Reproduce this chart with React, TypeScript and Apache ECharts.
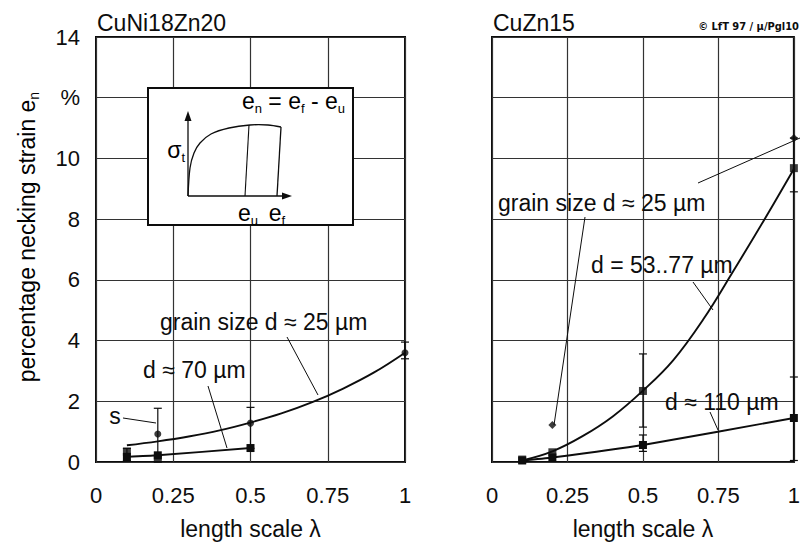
import React, { useEffect, useRef } from 'react';
import * as echarts from 'echarts';

// ---- data ----
const lambdaTicks = [0, 0.25, 0.5, 0.75, 1];
const strainTicks = [0, 2, 4, 6, 8, 10, 12, 14];
const strainTickLabels = ['0', '2', '4', '6', '8', '10', '%', '14'];

// CuNi18Zn20 (left)
const fitLambda = [0.1, 0.2, 0.3, 0.4, 0.5, 0.6, 0.7, 0.8, 0.9, 1.0];
const leftFit25 = [0.55, 0.68, 0.84, 1.04, 1.3, 1.6, 1.97, 2.42, 2.95, 3.6];
const leftPts25Lambda = [0.2, 0.5, 1.0];
const leftPts25 = [0.92, 1.28, 3.6];
const left70Lambda = [0.1, 0.2, 0.5];
const left70 = [0.17, 0.22, 0.46];
const left70SpreadLambda = [0.1, 0.2];
const left70Spread = [0.34, 0.1];
const leftErrLambda = [0.1, 0.2, 0.5, 1.0];
const leftErrLow = [0.05, 0.2, 0.45, 3.4];
const leftErrHigh = [0.45, 1.77, 1.8, 3.95];

// CuZn15 (right)
const rightFit53 = [0.05, 0.35, 0.85, 1.5, 2.35, 3.35, 4.7, 6.3, 7.95, 9.65];
const right53Lambda = [0.1, 0.2, 0.5, 1.0];
const right53 = [0.08, 0.32, 2.34, 9.68];
const right110Lambda = [0.1, 0.2, 0.5, 1.0];
const right110 = [0.05, 0.15, 0.56, 1.45];
const right25Lambda = [0.2, 1.0];
const right25 = [1.22, 10.67];
const rightErrLambda = [0.5, 0.5, 1.0, 1.0];
const rightErrLow = [1.15, 0.35, 8.9, 0.05];
const rightErrHigh = [3.56, 0.89, 10.67, 2.8];

const FONT = '"Liberation Sans", Arial, Helvetica, sans-serif';
const INK = '#0d0d0d';
const TICK = 22;
const NAME = 23;

const zip = (xs: number[], ys: number[]) => xs.map((x, i) => [x, ys[i]]);
const zip3 = (xs: number[], a: number[], b: number[]) => xs.map((x, i) => [x, a[i], b[i]]);

const errRender = (params: any, api: any) => {
  const x = api.value(0);
  const p1 = api.coord([x, api.value(1)]);
  const p2 = api.coord([x, api.value(2)]);
  const w = 4;
  const st = { stroke: INK, lineWidth: 1.2 };
  return {
    type: 'group',
    children: [
      { type: 'line', shape: { x1: p1[0], y1: p1[1], x2: p2[0], y2: p2[1] }, style: st },
      { type: 'line', shape: { x1: p2[0] - w, y1: p2[1], x2: p2[0] + w, y2: p2[1] }, style: st },
      { type: 'line', shape: { x1: p1[0] - w, y1: p1[1], x2: p1[0] + w, y2: p1[1] }, style: st },
    ],
  };
};

const txt = (x: number, y: number, text: string, size = NAME, align = 'left', extra: any = {}) => ({
  type: 'text',
  x,
  y,
  z: 20,
  style: {
    text,
    fill: INK,
    font: `${size}px ${FONT}`,
    textAlign: align,
    align,
    textVerticalAlign: 'middle',
    verticalAlign: 'middle',
    ...extra,
  },
});

const subRich = (size: number, sub: number) => ({
  m: { fontSize: size, fontFamily: FONT, color: INK, lineHeight: size + 4, verticalAlign: 'middle' },
  s: { fontSize: sub, fontFamily: FONT, color: INK, lineHeight: sub, verticalAlign: 'bottom' },
});

const ln = (x1: number, y1: number, x2: number, y2: number, w = 1) => ({
  type: 'line',
  z: 20,
  shape: { x1, y1, x2, y2 },
  style: { stroke: INK, lineWidth: w },
});

export default function App() {
  const ref = useRef<HTMLDivElement>(null);
  useEffect(() => {
    document.body.style.margin = '0';
    const chart = echarts.init(ref.current!, null, { renderer: 'svg' });

    const xAxisBase = (gi: number) => ({
      type: 'value',
      gridIndex: gi,
      min: 0,
      max: 1,
      interval: 0.25,
      axisLine: { show: false },
      axisTick: { show: false },
      splitLine: { show: true, lineStyle: { color: '#333333', width: 1.2 } },
      axisLabel: {
        margin: 22,
        fontSize: TICK,
        color: INK,
        fontFamily: FONT,
        formatter: (v: number) => String(lambdaTicks.find((t) => Math.abs(t - v) < 1e-6) ?? v),
      },
      name: 'length scale λ',
      nameLocation: 'middle',
      nameGap: 55,
      nameTextStyle: { fontSize: NAME, color: INK, fontFamily: FONT },
    });
    const yAxisBase = (gi: number) => ({
      type: 'value',
      gridIndex: gi,
      min: 0,
      max: 14,
      interval: 2,
      axisLine: { show: false },
      axisTick: { show: false },
      splitLine: { show: true, lineStyle: { color: '#333333', width: 1.2 } },
      axisLabel: {
        show: gi === 0,
        margin: 16,
        fontSize: TICK,
        color: INK,
        fontFamily: FONT,
        formatter: (v: number) => strainTickLabels[strainTicks.indexOf(v)] ?? String(v),
      },
    });

    const lineStyle = { color: INK, width: 1.9 };

    chart.setOption({
      animation: false,
      backgroundColor: '#ffffff',
      grid: [
        { left: 96, top: 37, width: 309, height: 425, show: true, borderColor: INK, borderWidth: 2, backgroundColor: 'transparent' },
        { left: 492, top: 37, width: 308, height: 425, show: true, borderColor: INK, borderWidth: 2, backgroundColor: 'transparent' },
      ],
      xAxis: [xAxisBase(0), xAxisBase(1)],
      yAxis: [yAxisBase(0), yAxisBase(1)],
      series: [
        // left
        { type: 'line', xAxisIndex: 0, yAxisIndex: 0, data: zip(fitLambda, leftFit25), smooth: 0.4, showSymbol: false, lineStyle },
        { type: 'scatter', xAxisIndex: 0, yAxisIndex: 0, data: zip(leftPts25Lambda, leftPts25), symbol: 'circle', symbolSize: 7, itemStyle: { color: INK } },
        { type: 'line', xAxisIndex: 0, yAxisIndex: 0, data: zip(left70Lambda, left70), smooth: 0.2, symbol: 'rect', symbolSize: 8, itemStyle: { color: INK }, lineStyle },
        { type: 'scatter', xAxisIndex: 0, yAxisIndex: 0, data: zip(left70SpreadLambda, left70Spread), symbol: 'rect', symbolSize: 8, itemStyle: { color: INK } },
        { type: 'custom', xAxisIndex: 0, yAxisIndex: 0, data: zip3(leftErrLambda, leftErrLow, leftErrHigh), renderItem: errRender, encode: { x: 0, y: [1, 2] }, z: 3 },
        // right
        { type: 'line', xAxisIndex: 1, yAxisIndex: 1, data: zip(fitLambda, rightFit53), smooth: 0.4, showSymbol: false, lineStyle },
        { type: 'scatter', xAxisIndex: 1, yAxisIndex: 1, data: zip(right53Lambda, right53), symbol: 'rect', symbolSize: 8, itemStyle: { color: INK } },
        { type: 'line', xAxisIndex: 1, yAxisIndex: 1, data: zip(right110Lambda, right110), smooth: 0.2, symbol: 'rect', symbolSize: 8, itemStyle: { color: INK }, lineStyle },
        { type: 'scatter', xAxisIndex: 1, yAxisIndex: 1, data: zip(right25Lambda, right25), symbol: 'diamond', symbolSize: 8, itemStyle: { color: INK } },
        { type: 'custom', xAxisIndex: 1, yAxisIndex: 1, data: zip3(rightErrLambda, rightErrLow, rightErrHigh), renderItem: errRender, encode: { x: 0, y: [1, 2] }, z: 3 },
      ],
      graphic: [
        // titles
        txt(97, 23, 'CuNi18Zn20', 23),
        txt(493, 23, 'CuZn15', 23),
        txt(799, 26, '© LfT 97 / µ/Pgl10', 11, 'right', { font: `bold 11px "Liberation Sans Narrow", "DejaVu Sans Condensed", ${FONT}` }),
        // y axis name
        {
          type: 'text',
          x: 27,
          y: 237,
          rotation: Math.PI / 2,
          z: 20,
          style: {
            text: '{m|percentage necking strain e}{s|n}',
            rich: subRich(NAME, 14),
            textAlign: 'center',
            align: 'center',
            textVerticalAlign: 'middle',
            verticalAlign: 'middle',
          },
        },
        // inset
        { type: 'rect', z: 15, shape: { x: 148, y: 88, width: 205, height: 137 }, style: { fill: '#ffffff', stroke: INK, lineWidth: 2 } },
        ln(188, 196, 188, 118, 1.3),
        { type: 'polygon', z: 20, shape: { points: [[188, 111], [184.5, 121], [191.5, 121]] }, style: { fill: INK } },
        ln(188, 196, 284, 196, 1.3),
        { type: 'polygon', z: 20, shape: { points: [[292, 196], [282, 192.5], [282, 199.5]] }, style: { fill: INK } },
        {
          type: 'polyline',
          z: 20,
          shape: { points: [[188, 196], [190, 168], [194, 153], [200, 143], [211, 134], [229, 128], [250, 125], [268, 125], [281, 127]], smooth: 0.3 },
          style: { stroke: INK, lineWidth: 1.3, fill: 'none' },
        },
        ln(281, 127, 277, 196, 1.3),
        ln(249, 125, 245, 196, 1.1),
        {
          type: 'text', x: 185, y: 150, z: 20,
          style: { text: '{m|σ}{s|t}', rich: subRich(NAME, 13), textAlign: 'right', align: 'right', textVerticalAlign: 'middle', verticalAlign: 'middle' },
        },
        {
          type: 'text', x: 248, y: 213, z: 20,
          style: { text: '{m|e}{s|u}', rich: subRich(NAME, 13), textAlign: 'center', align: 'center', textVerticalAlign: 'middle', verticalAlign: 'middle' },
        },
        {
          type: 'text', x: 277, y: 213, z: 20,
          style: { text: '{m|e}{s|f}', rich: subRich(NAME, 13), textAlign: 'center', align: 'center', textVerticalAlign: 'middle', verticalAlign: 'middle' },
        },
        {
          type: 'text', x: 345, y: 101, z: 20,
          style: { text: '{m|e}{s|n}{m| = e}{s|f}{m| - e}{s|u}', rich: subRich(NAME, 13), textAlign: 'right', align: 'right', textVerticalAlign: 'middle', verticalAlign: 'middle' },
        },
        // left annotations
        txt(160, 322, 'grain size d ≈ 25 µm', NAME),
        ln(287, 337, 318, 395),
        txt(143, 370, 'd ≈ 70 µm', NAME),
        ln(208, 386, 227, 448),
        txt(115, 416, 's', NAME, 'center'),
        ln(123, 418, 156, 423),
        // right annotations
        txt(498, 203, 'grain size d ≈ 25 µm', NAME),
        ln(585, 217, 554, 425),
        ln(698, 183, 800, 138),
        txt(591, 265, 'd = 53..77 µm', NAME),
        ln(693, 282, 713, 310),
        txt(665, 402, 'd ≈ 110 µm', NAME),
        ln(710, 412, 718, 430),
      ],
    });
    return () => chart.dispose();
  }, []);
  return <div ref={ref} style={{ width: 803, height: 545 }} />;
}
